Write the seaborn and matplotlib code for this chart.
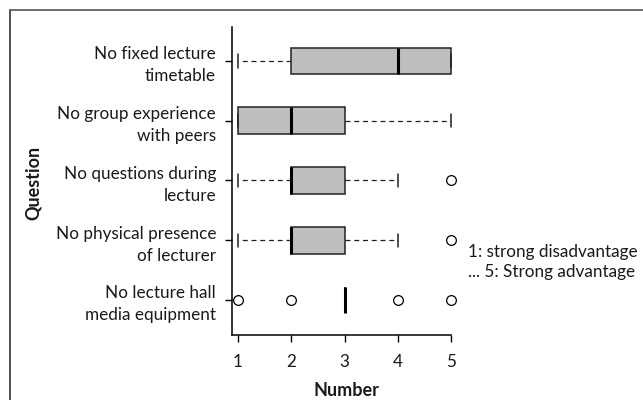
import pandas as pd
import seaborn as sns
import matplotlib.pyplot as plt
from matplotlib.lines import Line2D

# survey questions (top to bottom) and the raw 1-5 answers read back from the boxes
questions = ['No fixed lecture\ntimetable',
             'No group experience\nwith peers',
             'No questions during\nlecture',
             'No physical presence\nof lecturer',
             'No lecture hall\nmedia equipment']
answers_timetable = [1, 2, 2, 3, 4, 4, 5, 5, 5]
answers_peers = [1, 1, 1, 2, 2, 3, 3, 4, 5]
answers_questions = [1, 2, 2, 2, 2, 3, 3, 4, 5]
answers_presence = [1, 2, 2, 2, 2, 3, 3, 4, 5]
answers_media = [1, 2, 3, 3, 3, 3, 3, 4, 5]
x_ticks = [1, 2, 3, 4, 5]
note = '1: strong disadvantage\n... 5: Strong advantage'

all_answers = [answers_timetable, answers_peers, answers_questions,
               answers_presence, answers_media]
rows = []
for q, vals in zip(questions, all_answers):
    for v in vals:
        rows.append({'Question': q, 'Number': v})
df = pd.DataFrame(rows)

sns.set_style('white')
plt.rcParams['font.family'] = ['Lato', 'DejaVu Sans']

fig = plt.figure(figsize=(6.43, 4.0), dpi=100)
ax = fig.add_axes([232 / 643, 1 - 335 / 400, (5.2 - 0.887) * 53.25 / 643, (335 - 27) / 400])

sns.boxplot(data=df, x='Number', y='Question', order=questions, orient='h',
            width=0.45, color='#BEBEBE', saturation=1, linecolor='#222222',
            linewidth=1.1, whis=1.5, ax=ax,
            whiskerprops=dict(linestyle=(0, (4, 3)), linewidth=0.9),
            capprops=dict(linewidth=1.1),
            medianprops=dict(color='black', linewidth=2.2),
            flierprops=dict(marker='o', markersize=7, markerfacecolor='white',
                            markeredgecolor='black', markeredgewidth=0.9))

ax.set_xlim(0.887, 5.2)
ax.set_ylim(4.586, -0.569)
ax.set_xticks(x_ticks)
ax.set_xticklabels([str(t) for t in x_ticks])

for s in ['top', 'right']:
    ax.spines[s].set_visible(False)
for s in ['left', 'bottom']:
    ax.spines[s].set_color('black')
    ax.spines[s].set_linewidth(1.1)
ax.spines['bottom'].set_bounds(0.887, 5)

ax.tick_params(axis='both', which='both', direction='out', length=5, width=1.0,
               color='black', labelsize=12.3, labelcolor='#1a1a1a')
ax.tick_params(axis='y', pad=6.5, left=True)
ax.tick_params(axis='x', pad=9, bottom=True)
for lbl in ax.get_yticklabels():
    lbl.set_linespacing(1.45)
    lbl.set_horizontalalignment('right')
    lbl.set_multialignment('right')

ax.set_xlabel('Number', fontsize=13, fontweight='bold', labelpad=8, color='#1a1a1a')
ax.set_ylabel('')
fig.text(33 / 643, 1 - 183 / 400, 'Question', rotation=90, fontsize=13,
         fontweight='bold', ha='center', va='center', color='#1a1a1a')

fig.text(468 / 643, 1 - 262 / 400, note, fontsize=12.3, ha='left', va='center',
         linespacing=1.3, color='#1a1a1a')

# outer frame (left and top edges only visible)
fig.add_artist(Line2D([10 / 643, 10 / 643], [0, 1 - 10 / 400], transform=fig.transFigure,
                      color='#333333', linewidth=1.2))
fig.add_artist(Line2D([10 / 643, 1], [1 - 10 / 400, 1 - 10 / 400], transform=fig.transFigure,
                      color='#555555', linewidth=1.2))

fig.savefig('out.png', dpi=100)
